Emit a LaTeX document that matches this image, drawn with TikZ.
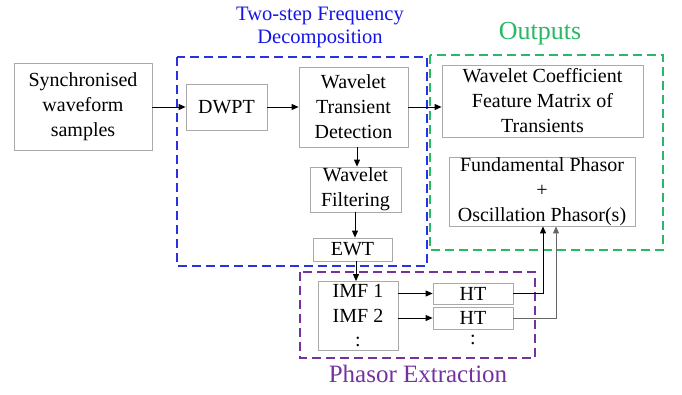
\documentclass[tikz,border=0pt]{standalone}
\usepackage{fontspec}
\setmainfont{LiberationSerif}[Extension=.ttf,UprightFont=*-Regular,BoldFont=*-Bold]
\usetikzlibrary{arrows.meta}
\definecolor{bxgray}{RGB}{170,170,170}
\definecolor{dblue}{RGB}{40,50,225}
\definecolor{tblue}{RGB}{20,20,230}
\definecolor{dgreen}{RGB}{40,185,100}
\definecolor{dpurple}{RGB}{115,50,160}
\begin{document}
\begin{tikzpicture}[x=1pt,y=-1pt,
  box/.style={draw=bxgray,line width=0.8pt,fill=white,inner sep=0pt,align=center,
    font=\fontsize{20}{25}\selectfont},
  arr/.style={-{Triangle[length=7pt,width=6pt]},line width=0.9pt,black},
  grp/.style={line width=1.6pt,dash pattern=on 9pt off 5pt},
  lbl/.style={inner sep=0pt,align=center}]
\useasboundingbox (0,0) rectangle (682,394);
% group frames
\draw[grp,dblue] (177,57) rectangle (427,266);
\draw[grp,dgreen] (430,55) rectangle (663,250);
\draw[grp,dpurple] (300,272) rectangle (535,358);
% titles
\node[lbl,text=tblue,font=\fontsize{20.5}{23}\selectfont] (t1) at (320,27) {Two-step Frequency\\Decomposition};
\node[lbl,text=dgreen,font=\fontsize{26}{30}\selectfont] (t2) at (540,34) {Outputs};
\node[lbl,text=dpurple,font=\fontsize{25}{30}\selectfont] (t3) at (418,374) {Phasor Extraction};
% boxes
\node[box,minimum width=138pt,minimum height=87pt] (sync) at (83,106.5) {Synchronised\\waveform\\samples};
\node[box,minimum width=81pt,minimum height=46pt] (dwpt) at (226.5,107) {DWPT};
\node[box,minimum width=109pt,minimum height=80pt] (wtd) at (353.5,107) {Wavelet\\Transient\\Detection};
\node[box,minimum width=91pt,minimum height=45pt] (wf) at (355.5,189.5) {Wavelet\\Filtering};
\node[box,minimum width=79pt,minimum height=23pt] (ewt) at (352.5,249.5) {EWT};
\node[box,minimum width=80pt,minimum height=69pt,font=\fontsize{20}{24.5}\selectfont] (imf) at (358,316) {IMF 1\\IMF 2\\:};
\node[box,minimum width=80pt,minimum height=21pt] (ht1) at (473,293.5) {HT};
\node[box,minimum width=80pt,minimum height=22pt] (ht2) at (473,318) {HT};
\node[lbl,font=\fontsize{20}{24}\selectfont] (htd) at (473,340) {:};
\node[box,minimum width=201pt,minimum height=72pt] (wcf) at (542.5,101) {Wavelet Coefficient\\Feature Matrix of\\Transients};
\node[box,minimum width=186pt,minimum height=69pt] (fp) at (542,191.5) {Fundamental Phasor\\+\\Oscillation Phasor(s)};
% connectors
\draw[arr] (sync.east |- dwpt.west) -- (dwpt.west);
\draw[arr] (dwpt.east) -- (wtd.west |- dwpt.east);
\draw[arr] (wtd.east) -- (wcf.west |- wtd.east);
\draw[arr] ([xshift=3.5pt]wtd.south) -- ([xshift=1.5pt]wf.north);
\draw[arr] ([xshift=-0.5pt]wf.south) -- ([xshift=2.5pt]ewt.north);
\draw[arr] ([xshift=3.5pt]ewt.south) -- ([xshift=-2pt]imf.north);
\draw[arr] (imf.east |- ht1.west) -- (ht1.west);
\draw[arr] (imf.east |- ht2.west) -- (ht2.west);
\coordinate (c1) at (543,0);
\coordinate (c2) at (556,0);
\draw[arr] (ht1.east) -| (c1 |- fp.south);
\draw[arr,draw=black!60] (ht2.east) -| (c2 |- fp.south);
\end{tikzpicture}
\end{document}
